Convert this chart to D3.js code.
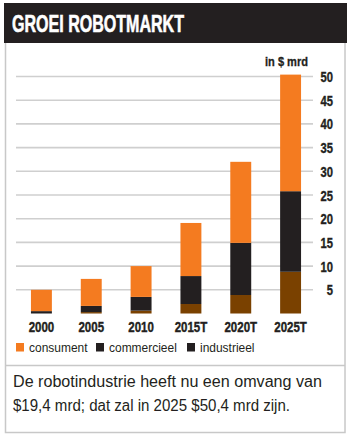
<!DOCTYPE html>
<html>
<head>
<meta charset="utf-8">
<script src="https://cdn.jsdelivr.net/npm/d3@7"></script>
<style>
  html, body { margin: 0; padding: 0; background: #fff; }
</style>
</head>
<body>
<div id="chart"></div>
<script>
// data
const years = ["2000", "2005", "2010", "2015T", "2020T", "2025T"];
const industrieel = [0, 0.3, 0.6, 2.0, 3.9, 8.8];
const commercieel = [0.5, 1.3, 2.9, 5.9, 11.0, 17.0];
const consument = [4.5, 5.7, 6.5, 11.2, 17.1, 24.6];
const yTicks = [5, 10, 15, 20, 25, 30, 35, 40, 45, 50];
const legendLabels = ["consument", "commercieel", "industrieel"];

const W = 353, H = 439;
const colors = {
  consument: "#f47b20",
  commercieel: "#231f20",
  industrieel: "#7a4100",
};
const ink = "#231f20";
const font = '"Liberation Sans", Arial, sans-serif';

// squeeze text horizontally (the original uses a condensed face)
function condense(sel, factor) {
  sel.each(function () {
    const w = this.getComputedTextLength();
    d3.select(this)
      .attr("textLength", w * factor)
      .attr("lengthAdjust", "spacingAndGlyphs");
  });
}

const svg = d3.select("#chart").append("svg")
  .attr("width", W)
  .attr("height", H);

// frame
svg.append("rect")
  .attr("x", 5.5).attr("y", 40).attr("width", 339.5).attr("height", 392.5)
  .attr("fill", "none").attr("stroke", "#c8c8c8").attr("stroke-width", 1.5);
svg.append("line")
  .attr("x1", 5.5).attr("x2", 345).attr("y1", 365.5).attr("y2", 365.5)
  .attr("stroke", "#c8c8c8").attr("stroke-width", 1.5);

// title bar
svg.append("rect")
  .attr("x", 4).attr("y", 3).attr("width", 343).attr("height", 40)
  .attr("fill", ink);
svg.append("text")
  .attr("x", 12).attr("y", 32)
  .attr("fill", "#fff")
  .attr("stroke", "#fff").attr("stroke-width", 0.6)
  .attr("textLength", 172)
  .attr("lengthAdjust", "spacingAndGlyphs")
  .style("font-family", font)
  .style("font-weight", "bold")
  .style("font-size", "23.5px")
  .text("GROEI ROBOTMARKT");

// scales
const x = d3.scaleBand()
  .domain(years)
  .range([16, 316])
  .paddingInner(0.58)
  .paddingOuter(0.3);

const y = d3.scaleLinear()
  .domain([0, 50])
  .range([313.5, 76.5]);

// grid
svg.append("g")
  .selectAll("line")
  .data(yTicks)
  .join("line")
  .attr("x1", 16).attr("x2", 313)
  .attr("y1", (d) => y(d)).attr("y2", (d) => y(d))
  .attr("stroke", "#cfcfcf").attr("stroke-width", 1.6);

// y axis labels
const yAxis = svg.append("g")
  .attr("transform", "translate(333,0)")
  .call(d3.axisRight(y).tickValues(yTicks).tickSize(0).tickPadding(0));
yAxis.select(".domain").remove();
yAxis.selectAll("text")
  .attr("text-anchor", "end")
  .attr("dy", "0.36em")
  .attr("fill", ink)
  .attr("stroke", ink).attr("stroke-width", 0.35)
  .style("font-family", font)
  .style("font-weight", "bold")
  .style("font-size", "14px")
  .call(condense, 0.8);

svg.append("text")
  .attr("x", 265).attr("y", 66)
  .attr("fill", ink)
  .attr("stroke", ink).attr("stroke-width", 0.3)
  .attr("textLength", 43)
  .attr("lengthAdjust", "spacingAndGlyphs")
  .style("font-family", font)
  .style("font-weight", "bold")
  .style("font-size", "12.5px")
  .text("in $ mrd");

// stacked bars
const table = years.map((yr, i) => ({
  year: yr,
  industrieel: industrieel[i],
  commercieel: commercieel[i],
  consument: consument[i],
}));
const stack = d3.stack().keys(["industrieel", "commercieel", "consument"]);
const series = stack(table);

svg.append("g")
  .selectAll("g")
  .data(series)
  .join("g")
  .attr("fill", (s) => colors[s.key])
  .selectAll("rect")
  .data((s) => s)
  .join("rect")
  .attr("x", (d) => x(d.data.year))
  .attr("width", x.bandwidth())
  .attr("y", (d) => y(d[1]))
  .attr("height", (d) => y(d[0]) - y(d[1]));

// x labels
const xAxis = svg.append("g")
  .attr("transform", "translate(0,331.5)")
  .call(d3.axisBottom(x).tickSize(0).tickPadding(0));
xAxis.select(".domain").remove();
xAxis.selectAll("text")
  .attr("y", 0)
  .attr("dy", 0)
  .attr("fill", ink)
  .attr("stroke", ink).attr("stroke-width", 0.4)
  .style("font-family", font)
  .style("font-weight", "bold")
  .style("font-size", "14px")
  .call(condense, 0.82);

// legend
const legendX = [16, 96, 187];
const legendColors = [colors.consument, colors.commercieel, colors.commercieel];
const legend = svg.append("g")
  .selectAll("g")
  .data(legendLabels)
  .join("g")
  .attr("transform", (d, i) => `translate(${legendX[i]},343)`);
legend.append("rect")
  .attr("width", 8).attr("height", 8.5)
  .attr("fill", (d, i) => legendColors[i]);
legend.append("text")
  .attr("x", 13).attr("y", 8.5)
  .attr("fill", ink)
  .style("font-family", font)
  .style("font-size", "13px")
  .text((d) => d)
  .call(condense, 0.92);

// note
const note = svg.append("text")
  .attr("fill", ink)
  .style("font-family", font)
  .style("font-size", "16px");
note.append("tspan").attr("x", 13).attr("y", 387)
  .attr("textLength", 309).attr("lengthAdjust", "spacingAndGlyphs")
  .text("De robotindustrie heeft nu een omvang van");
note.append("tspan").attr("x", 13).attr("y", 411)
  .attr("textLength", 277).attr("lengthAdjust", "spacingAndGlyphs")
  .text("$19,4 mrd; dat zal in 2025 $50,4 mrd zijn.");
</script>
</body>
</html>
